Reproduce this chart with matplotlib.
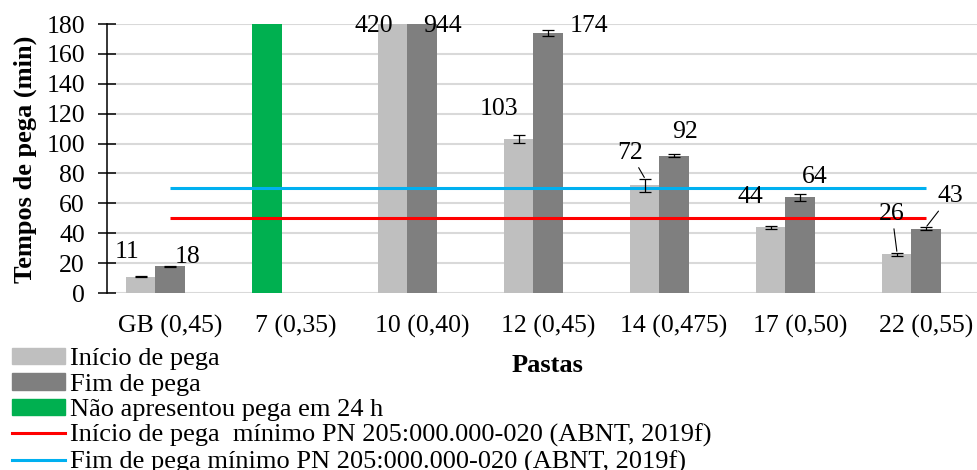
import numpy as np
import matplotlib.pyplot as plt
from matplotlib.patches import Patch
from matplotlib.lines import Line2D

plt.rcParams['font.family'] = ['Liberation Serif', 'DejaVu Serif']

# dados
pastas = ['GB (0,45)', '7 (0,35)', '10 (0,40)', '12 (0,45)', '14 (0,475)', '17 (0,50)', '22 (0,55)']
inicio = [11, np.nan, 420, 103, 72, 44, 26]
fim = [18, np.nan, 944, 174, 92, 64, 43]
inicio_err = [0.3, np.nan, 0, 2.5, 4.5, 1.0, 1.0]
fim_err = [0.3, np.nan, 0, 2.0, 0.8, 2.3, 1.0]
sem_pega = [np.nan, 180, np.nan, np.nan, np.nan, np.nan, np.nan]
lim_inicio = [50, 50, 50, 50, 50, 50, 50]
lim_fim = [70, 70, 70, 70, 70, 70, 70]

# posicao dos rotulos (pixels relativos ao topo da barra)
ini_off = [(-14, 24), None, (-19, -2), (-20, 26), (-15, 26), (-21, 29), (-5, 39)]
fim_off = [(18, 9), None, (20, -2), (41, 4), (11, 22), (15, 17), (24, 31)]
ini_leader = [False, False, False, False, True, False, True]
fim_leader = [False, False, False, False, False, False, True]

c_ini = '#bfbfbf'
c_fim = '#7f7f7f'
c_verde = '#00b050'
c_verm = '#ff0000'
c_azul = '#00b0f0'

W, H = 977, 470
fig = plt.figure(figsize=(W / 100, H / 100), dpi=100)
ax = fig.add_axes([107 / W, (H - 293) / H, (W - 107) / W, 269 / H])

ymax = 180
x = np.arange(len(pastas))
off = 0.23
bw = 0.235

ax.bar(x - off, inicio, bw, color=c_ini, zorder=2)
ax.bar(x, fim, bw, color=c_fim, zorder=2)
ax.bar(x - off, sem_pega, bw, color=c_verde, zorder=2)

ini = np.array(inicio, dtype=float)
fi = np.array(fim, dtype=float)
m1 = np.isfinite(ini) & (ini < ymax)
m2 = np.isfinite(fi) & (fi < ymax)
ax.errorbar((x - off)[m1], ini[m1], yerr=np.array(inicio_err)[m1], fmt='none',
            ecolor='black', elinewidth=0.9, capsize=4.3, capthick=0.9, zorder=5)
ax.errorbar(x[m2], fi[m2], yerr=np.array(fim_err)[m2], fmt='none',
            ecolor='black', elinewidth=0.9, capsize=4.3, capthick=0.9, zorder=5)

ax.plot(x, lim_inicio, color=c_verm, lw=2.2, zorder=4, solid_capstyle='butt')
ax.plot(x, lim_fim, color=c_azul, lw=2.2, zorder=4, solid_capstyle='butt')

# rotulos de dados
def rotular(xs, vals, errs, offs, leaders):
    for xi, v, e, o, ld in zip(xs, vals, errs, offs, leaders):
        if o is None or not np.isfinite(v):
            continue
        top = min(v, ymax) + (e if v < ymax else 0)
        kw = {}
        if ld:
            kw['arrowprops'] = dict(arrowstyle='-', color='black', lw=0.8,
                                    shrinkA=1, shrinkB=1)
        ax.annotate(f'{v:g}', xy=(xi, top), xytext=o, textcoords='offset pixels',
                    ha='center', va='center', fontsize=18.5, zorder=6,
                    annotation_clip=False, **kw)

rotular(x - off, inicio, inicio_err, ini_off, ini_leader)
rotular(x, fim, fim_err, fim_off, fim_leader)

ax.set_xlim(-0.5, -0.5 + (W - 107) / 126)
ax.set_ylim(0, ymax)
ax.set_yticks(np.arange(0, 181, 20))
ax.set_xticks(x)
ax.set_xticklabels(pastas)
ax.tick_params(axis='x', length=0, pad=16, labelsize=18.5)
ax.tick_params(axis='y', direction='inout', length=12.7, width=1.1, pad=9.5, labelsize=18.5)
ax.yaxis.grid(True, color='#d9d9d9', lw=1.5, zorder=0)
ax.set_axisbelow(True)
for s in ['top', 'right', 'bottom']:
    ax.spines[s].set_visible(False)
ax.spines['left'].set_linewidth(1.1)
ax.spines['left'].set_zorder(3)

fig.text(25 / W, 1 - 159 / H, 'Tempos de pega (min)', rotation=90, ha='center',
         va='center', fontsize=19, fontweight='bold')
fig.text(547 / W, 1 - 372 / H, 'Pastas', ha='center', va='baseline',
         fontsize=19, fontweight='bold')

handles = [
    Patch(color=c_ini, label='Início de pega'),
    Patch(color=c_fim, label='Fim de pega'),
    Patch(color=c_verde, label='Não apresentou pega em 24 h'),
    Line2D([], [], color=c_verm, lw=2.2, label='Início de pega  mínimo PN 205:000.000-020 (ABNT, 2019f)'),
    Line2D([], [], color=c_azul, lw=2.2, label='Fim de pega mínimo PN 205:000.000-020 (ABNT, 2019f)'),
]
fig.legend(handles=handles, loc='upper left', bbox_to_anchor=(12 / W, 1 - 348 / H),
           frameon=False, fontsize=19, borderpad=0, borderaxespad=0,
           handlelength=2.0, handleheight=0.57, handletextpad=0.19, labelspacing=0.11)

fig.savefig('out.png', dpi=100)
